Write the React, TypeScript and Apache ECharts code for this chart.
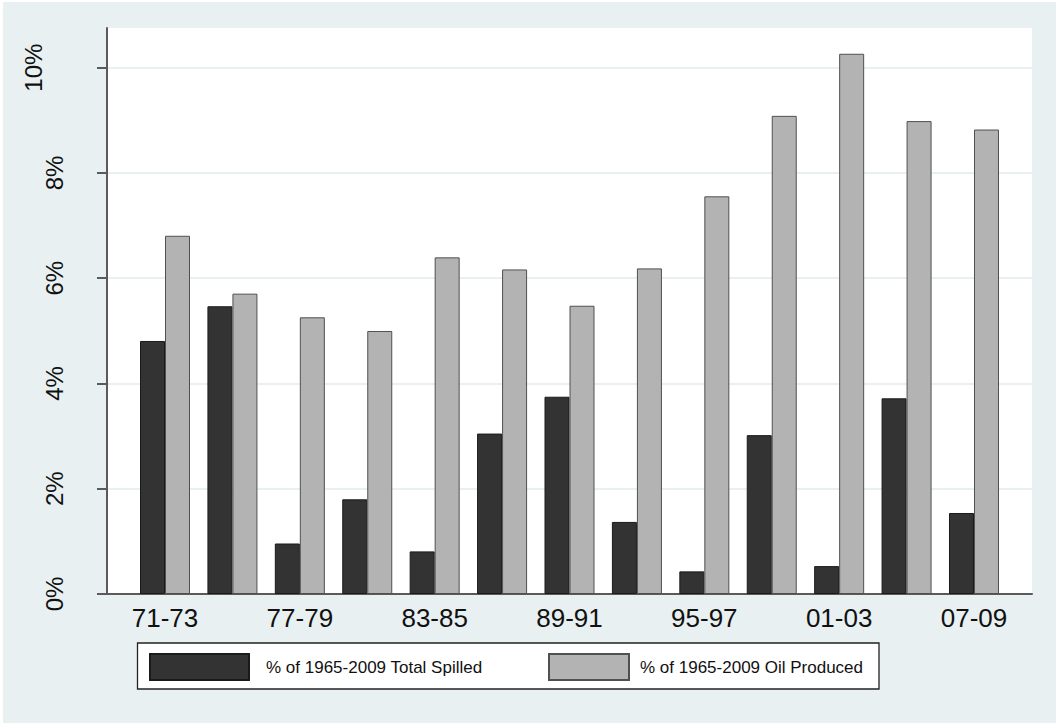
import React, { useEffect, useRef } from "react";
import * as echarts from "echarts";

const categories = ["71-73", "74-76", "77-79", "80-82", "83-85", "86-88", "89-91", "92-94", "95-97", "98-00", "01-03", "04-06", "07-09"];
const spilled = [4.81, 5.47, 0.96, 1.8, 0.81, 3.05, 3.75, 1.37, 0.43, 3.02, 0.53, 3.72, 1.54];
const produced = [6.81, 5.71, 5.26, 5.0, 6.4, 6.17, 5.48, 6.19, 7.56, 9.09, 10.27, 8.99, 8.83];
const seriesNames = ["% of 1965-2009 Total Spilled", "% of 1965-2009 Oil Produced"];
const yTickMax = 10;
const yTickStep = 2;
const yPlotMax = 10.76;

const FONT = "'Liberation Sans', Arial, Helvetica, sans-serif";
const BG = "#e8f0f2";
const AXIS = "#5a5a5a";

export default function App() {
  const ref = useRef<HTMLDivElement>(null);
  useEffect(() => {
    if (!ref.current) return;
    const chart = echarts.init(ref.current, null, { renderer: "svg" });
    const option: any = {
      animation: false,
      backgroundColor: "#ffffff",
      textStyle: { fontFamily: FONT },
      graphic: [
        { type: "rect", z: -10, silent: true, shape: { x: 3, y: 2, width: 1053, height: 721 }, style: { fill: BG } },
        { type: "rect", z: -5, silent: true, shape: { x: 107, y: 28, width: 925, height: 566 }, style: { fill: "#ffffff" } },
        { type: "rect", z: 1, silent: true, shape: { x: 137.5, y: 643, width: 741.5, height: 46 }, style: { fill: "#ffffff", stroke: "#222222", lineWidth: 1.3 } },
      ],
      grid: [
        { left: 107, right: 24, top: 28, bottom: 129 },
        { left: 107, right: 24, top: 67.7, bottom: 129 },
        { left: 131.3, right: 48.3, top: 28, bottom: 129 },
      ],
      xAxis: [
        { gridIndex: 0, type: "value", min: 0, max: 1, axisLine: { show: true, lineStyle: { color: AXIS, width: 2 } }, axisTick: { show: false }, axisLabel: { show: false }, splitLine: { show: false } },
        { gridIndex: 1, type: "value", min: 0, max: 1, show: false },
        {
          gridIndex: 2,
          type: "category",
          data: categories,
          axisLine: { show: false },
          axisTick: { show: false },
          axisLabel: { interval: 1, margin: 11, fontSize: 26, lineHeight: 26, color: "#111111", fontFamily: FONT },
        },
      ],
      yAxis: [
        { gridIndex: 0, type: "value", min: 0, max: yPlotMax, axisLine: { show: true, lineStyle: { color: AXIS, width: 2 } }, axisTick: { show: false }, axisLabel: { show: false }, splitLine: { show: false } },
        {
          gridIndex: 1,
          type: "value",
          min: 0,
          max: yTickMax,
          interval: yTickStep,
          axisLine: { show: false },
          axisTick: { show: true, length: 10, lineStyle: { color: AXIS, width: 2 } },
          splitLine: { show: true, lineStyle: { color: BG, width: 2 } },
          axisLabel: {
            rotate: 90,
            margin: 41,
            color: "#111111",
            fontFamily: FONT,
            formatter: (v: number) => (v >= 10 ? `{w|${v}%}` : `{n|${v}%}`),
            rich: {
              n: { fontSize: 24, lineHeight: 24, fontFamily: FONT, color: "#111111" },
              w: { fontSize: 24, lineHeight: 66, fontFamily: FONT, color: "#111111" },
            },
          },
        },
        { gridIndex: 2, type: "value", min: 0, max: yPlotMax, show: false },
      ],
      legend: [
        {
          data: [seriesNames[0]],
          left: 149,
          top: 653,
          padding: 0,
          itemWidth: 99,
          itemHeight: 26,
          icon: "rect",
          textStyle: { fontSize: 17, color: "#111111", fontFamily: FONT, padding: [0, 0, 0, 12] },
          selectedMode: false,
        },
        {
          data: [seriesNames[1]],
          left: 548,
          top: 653,
          padding: 0,
          itemWidth: 80,
          itemHeight: 26,
          icon: "rect",
          textStyle: { fontSize: 17, color: "#111111", fontFamily: FONT, padding: [0, 0, 0, 6] },
          selectedMode: false,
        },
      ],
      series: [
        {
          name: seriesNames[0],
          type: "bar",
          xAxisIndex: 2,
          yAxisIndex: 2,
          data: spilled,
          barWidth: 25,
          barGap: "0%",
          itemStyle: { color: "#333333", borderColor: "#1a1a1a", borderWidth: 1 },
        },
        {
          name: seriesNames[1],
          type: "bar",
          xAxisIndex: 2,
          yAxisIndex: 2,
          data: produced,
          barWidth: 25,
          barGap: "0%",
          itemStyle: { color: "#b3b3b3", borderColor: "#505050", borderWidth: 1 },
        },
      ],
    };
    chart.setOption(option);
    return () => chart.dispose();
  }, []);
  return (
    <div style={{ position: "fixed", left: 0, top: 0, width: 1056, height: 723 }}>
      <div ref={ref} style={{ width: 1056, height: 723 }} />
    </div>
  );
}
